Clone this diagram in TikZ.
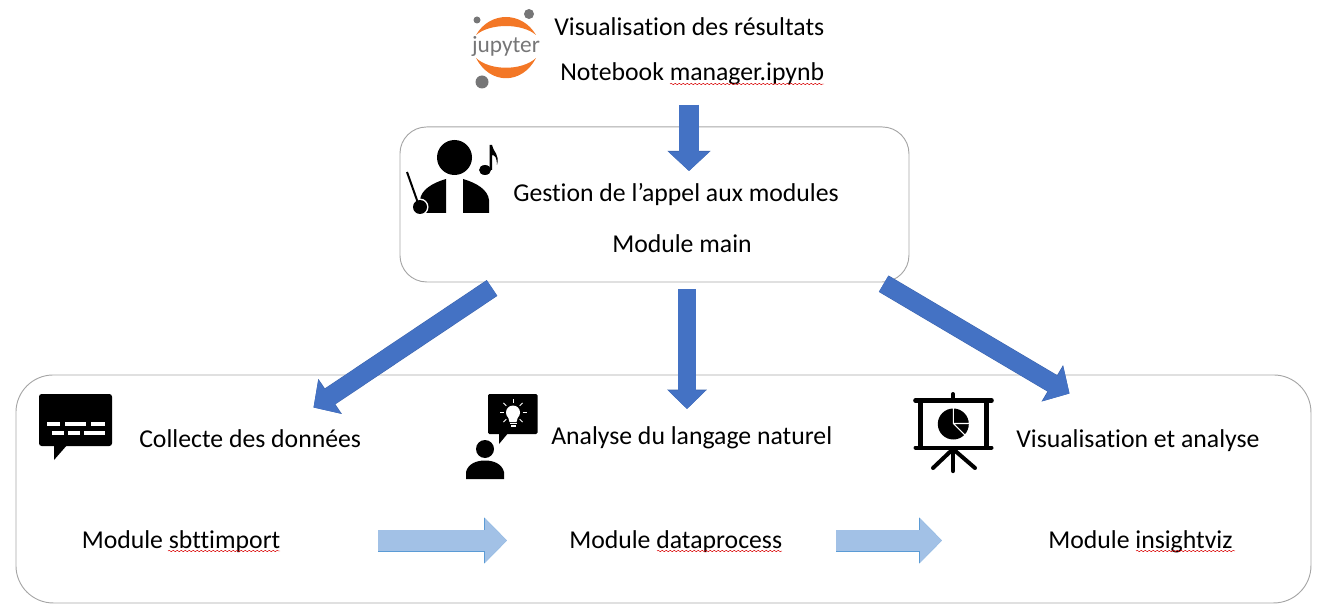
\documentclass[tikz,border=0pt]{standalone}
\usepackage{fontspec}
\setmainfont[Ligatures=NoCommon]{Carlito}
\usetikzlibrary{arrows.meta, decorations.pathmorphing}
\definecolor{arrowblue}{HTML}{4472C4}
\definecolor{arrowedge}{HTML}{3A62AB}
\definecolor{flowblue}{HTML}{A2C1E6}
\definecolor{flowedge}{HTML}{5B9BD5}
\definecolor{boxedge}{HTML}{A6A6A6}
\definecolor{jorange}{HTML}{F37726}
\definecolor{jgray}{HTML}{767677}

\begin{document}
\begin{tikzpicture}[
    x = 0.75pt, y = -0.75pt,
    every node/.style = {font=\fontsize{19.3}{23}\selectfont},
    label/.style    = {anchor=base west, inner sep=0pt},
    panel/.style    = {draw=boxedge, line width=0.7pt, anchor=north west, inner sep=0pt},
    notearr/.style  = {arrowblue, line width=15pt, -{Triangle[length=14.5pt,width=30pt]},
                       preaction={draw=arrowedge, line width=15.7pt, -{Triangle[length=15pt,width=31.4pt]}}},
    midarr/.style   = {arrowblue, line width=13.5pt, -{Triangle[length=14pt,width=27.5pt]},
                       preaction={draw=arrowedge, line width=14.2pt, -{Triangle[length=14.5pt,width=28.9pt]}}},
    slantarr/.style = {arrowblue, line width=13.6pt, -{Triangle[length=14.5pt,width=29.5pt]},
                       preaction={draw=arrowedge, line width=14.3pt, -{Triangle[length=15pt,width=30.9pt]}}},
    flowarr/.style  = {flowblue, line width=15.5pt, -{Triangle[length=16.5pt,width=32pt]},
                       preaction={draw=flowedge, line width=16.5pt, -{Triangle[length=17.2pt,width=33.6pt]}}},
    spell/.style    = {red!85!black, line width=0.35pt, decorate,
                       decoration={snake, amplitude=0.5pt, segment length=3pt}},
    ink/.style      = {fill=black, draw=none},
    blank/.style    = {fill=white, draw=none}
]
\useasboundingbox (0,0) rectangle (1328,613);

% boxes
\node[panel, rounded corners=20pt, minimum width=381.75pt, minimum height=116.25pt] (mainbox) at (399.5,126.5) {};
\node[panel, rounded corners=28pt, minimum width=971.25pt, minimum height=171pt] (modbox) at (15.5,374.5) {};

% labels
\node[label] (notetitle) at (554,35.7)  {Visualisation des résultats};
\node[label] (notename)  at (560,80.7)  {Notebook manager.ipynb};
\node[label] (maintitle) at (513,201) {Gestion de l’appel aux modules};
\node[label] (mainname)  at (612,252.7) {Module main};
\node[label] (colltitle) at (139,447) {Collecte des données};
\node[label] (langtitle) at (551,444) {Analyse du langage naturel};
\node[label] (viztitle)  at (1016,447.5) {Visualisation et analyse};
\node[label] (collname)  at (81.5,548)  {Module sbttimport};
\node[label] (langname)  at (569,548) {Module dataprocess};
\node[label] (vizname)   at (1048,548) {Module insightviz};

% spelling marks
\draw[spell] (670,84)  -- (824,84);
\draw[spell] (168,551) -- (280,551);
\draw[spell] (657,551) -- (782,551);
\draw[spell] (1136,551) -- (1235,551);

% free ends of the arrows
\coordinate (notefoot) at (689,105);
\coordinate (mainhead) at (689,171);
\coordinate (mainfootl) at (492,288);
\coordinate (collhead)  at (313.5,407.5);
\coordinate (mainfootm) at (687,289);
\coordinate (langhead)  at (687,409);
\coordinate (mainfootr) at (883.7,283.7);
\coordinate (vizhead)   at (1069.5,393.5);
\coordinate (collout) at (378,540.5);
\coordinate (langin)  at (507,540.5);
\coordinate (langout) at (836,540.5);
\coordinate (vizin)   at (942,540.5);

\draw[notearr] (notefoot) -- (mainhead);
\draw[midarr] (mainfootm) -- (langhead);
\draw[slantarr] (mainfootl) -- (collhead);
\draw[slantarr] (mainfootr) -- (vizhead);
\draw[flowarr] (collout) -- (langin);
\draw[flowarr] (langout) -- (vizin);

% jupyter logo
\fill[jgray] (529,14) circle (5) (477,20) circle (3.5) (482,82) circle (6.5);
\fill[jorange] (476,35) .. controls (490,11) and (522,11) .. (536,35)
    .. controls (522,23) and (490,23) .. cycle;
\fill[jorange] (476,58) .. controls (490,85) and (522,85) .. (536,58)
    .. controls (522,71) and (490,71) .. cycle;
\node[jgray, font=\fontsize{17.5}{20}\selectfont, inner sep=0pt] (jlogo) at (506,46) {jupyter};

% conductor
\fill[ink] (454.5,157.5) circle (17.5);
\fill[ink] (446,179) -- (446,213) -- (420,213) -- (420,200) .. controls (421,190) and (432,183) .. cycle;
\fill[ink] (463,179) -- (463,213) -- (489,213) -- (489,200) .. controls (488,190) and (477,183) .. cycle;
\fill[blank] (420,207) circle (8.5);
\fill[ink] (420,207) circle (7);
\draw[black, line width=1.5pt] (407,172) -- (418,203);
\fill[ink] (485,170) ellipse (6 and 5);
\fill[ink] (489.5,170) -- (489.5,145) -- (492,145)
    .. controls (493,152) and (500,154) .. (497,165)
    .. controls (497,158) and (495,155) .. (492,155) -- (492,170) -- cycle;

% chat bubble
\fill[ink, rounded corners=2pt] (39,394) rectangle (112,446);
\fill[ink] (54,444) -- (54,460) -- (68,444) -- cycle;
\foreach \xa/\xb in {47/60, 65/86, 91/105} \fill[blank] (\xa,422) rectangle (\xb,426);
\foreach \xa/\xb in {52/64, 68/80, 84/105} \fill[blank] (\xa,431) rectangle (\xb,435);

% person with idea
\fill[ink, rounded corners=1pt] (488,394) rectangle (537.5,434);
\fill[ink] (499,432) -- (499,444) -- (509,432) -- cycle;
\fill[ink] (485,449) circle (9);
\fill[ink] (466,479) -- (466,472) .. controls (468,464) and (476,460.5) .. (485,460.5)
    .. controls (494,460.5) and (502,464) .. (504,472) -- (504,479) -- cycle;
\fill[blank] (513,412.5) circle (7);
\fill[blank] (507.5,415) -- (518.5,415) -- (516.5,422) -- (509.5,422) -- cycle;
\fill[blank] (509.5,423) rectangle (516.5,424.2);
\fill[blank] (510.5,425.2) rectangle (515.5,426.8);
\foreach \ang in {0,45,90,135,180,225,315}
    \draw[white, line width=0.7pt] (513,412.5) ++(\ang:-9.5) -- ++(\ang:-4);

% screen with pie chart
\draw[black, line width=3.75pt] (920.5,400) -- (920.5,447) (986.5,400) -- (986.5,447);
\draw[black, line width=3.5pt, line cap=round] (915.5,400.5) -- (991.5,400.5);
\draw[black, line width=3pt, line cap=round] (915.5,447.5) -- (991.5,447.5);
\draw[black, line width=3pt, line cap=round] (953,394) -- (953,400);
\draw[black, line width=3.2pt, line cap=round] (953,449) -- (953,471);
\draw[black, line width=3pt, line cap=round] (953,449) -- (933,468);
\draw[black, line width=3pt, line cap=round] (953,449) -- (975,468);
\fill[ink] (953.3,424) circle (15.5);
\draw[white, line width=0.8pt] (953.3,408) -- (953.3,423.5) -- (969.5,423.5) (953.3,423.5) -- (966,436);
\end{tikzpicture}
\end{document}
